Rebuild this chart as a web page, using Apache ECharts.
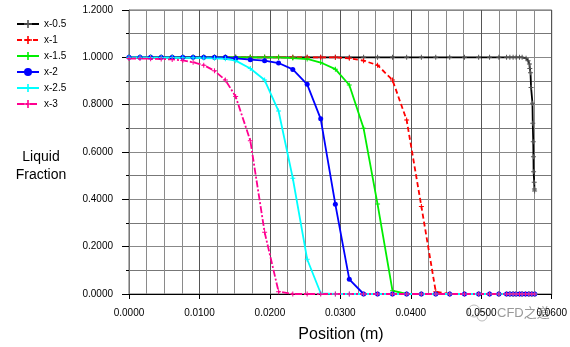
<!DOCTYPE html>
<html>
<head>
<meta charset="utf-8">
<script src="https://cdn.jsdelivr.net/npm/echarts@6/dist/echarts.min.js"></script>
<style>
html,body{margin:0;padding:0;background:#fff;}
#chart{width:570px;height:347px;}
</style>
</head>
<body>
<div id="chart"></div>
<script>
// Shared mesh positions (m)
const xMesh = [0.0000,0.00156,0.00307,0.00457,0.00613,0.00764,0.00910,0.01061,0.01213,0.01368,
  0.01514,0.01722,0.01925,0.02123,0.02325,0.02529,0.02721,0.02929,0.03127,0.03330,
  0.03528,0.03740,0.03941,0.04150,0.04354,0.04552,0.04762,0.04963,0.05118,0.05250,
  0.05359,0.05406,0.05452,0.05495,0.05543,0.05580,0.05628,0.05675,0.05717,0.05759];

// x-0.5 has its own points
const x05X = [0.0000,0.00156,0.00307,0.00457,0.00613,0.00764,0.00910,0.01061,0.01213,0.01368,
  0.01514,0.01722,0.01925,0.02123,0.02325,0.02529,0.02721,0.02929,0.03127,0.03330,
  0.03528,0.03740,0.03941,0.04150,0.04354,0.04552,0.04762,0.04963,0.05118,0.05250,
  0.05359,0.05406,0.05452,0.05495,0.05543,0.05580,
  0.05636,0.05665,0.05684,0.05689,0.05699,0.05707,0.05727,0.05731,0.05738,0.05741,0.05743,0.05752,0.05755,0.05757];
const x05Y = [1,1,1,1,1,1,1,1,1,1, 1,1,1,1,1,1,1,1,1,1, 1,1,1,1,1,1,1,1,1,1, 1,1,1,1,1,1,
  0.996,0.986,0.972,0.953,0.935,0.873,0.806,0.721,0.643,0.580,0.517,0.472,0.444,0.435];

const x1Y = [1,1,1,1,1,1,1,1,1,1, 1,1,1,1,1,1,1,1,
  0.996,0.986,0.967,0.904,0.735,0.370,0.010,
  0,0,0,0,0,0,0,0,0,0,0,0,0,0,0];
const x15Y = [1,1,1,1,1,1,1,1,1,1, 1,1,1,1,
  0.997,0.993,0.978,0.950,0.883,0.700,0.380,0.014,
  0,0,0,0,0,0,0,0,0,0,0,0,0,0,0,0,0,0];
const x2Y = [1,1,1,1,1,1,1,1,1,1,
  0.996,0.990,0.986,0.976,0.949,0.886,0.740,0.379,0.062,
  0,0,0,0,0,0,0,0,0,0,0,0,0,0,0,0,0,0,0,0,0,0];
const x25Y = [1,1,0.999,0.999,0.999,0.998,0.998,0.997,0.996,0.994,
  0.986,0.953,0.904,0.773,0.489,0.147,0.003,
  0,0,0,0,0,0,0,0,0,0,0,0,0,0,0,0,0,0,0,0,0,0,0];
const x3Y = [0.995,0.995,0.994,0.993,0.991,0.987,0.979,0.967,0.943,0.904,
  0.834,0.648,0.261,0.010,
  0,0,0,0,0,0,0,0,0,0,0,0,0,0,0,0,0,0,0,0,0,0,0,0,0,0];

const seriesNames = ['x-0.5','x-1','x-1.5','x-2','x-2.5','x-3'];
const xTickLabels = ['0.0000','0.0100','0.0200','0.0300','0.0400','0.0500','0.0600'];
const yTickLabels = ['0.0000','0.2000','0.4000','0.6000','0.8000','1.0000','1.2000'];

function pairs(xs, ys){ return ys.map((y,i)=>[xs[i], y]); }
const cross = 'path://M4,0H6V4H10V6H6V10H4V6H0V4H4Z';
const FONT = 'Liberation Sans, Arial, sans-serif';

function mk(name, xs, ys, color, opts){
  return Object.assign({
    name: name, type: 'line', data: pairs(xs, ys),
    symbol: cross, symbolSize: 5, showSymbol: true,
    itemStyle: {color: color},
    lineStyle: {color: color, width: 1.8, type: 'solid'},
    animation: false, emphasis: {disabled: true}
  }, opts || {});
}

const chart = echarts.init(document.getElementById('chart'), null, {renderer: 'canvas'});
chart.setOption({
  backgroundColor: '#fff',
  animation: false,
  textStyle: {fontFamily: FONT},
  grid: {left: 129, right: 17, top: 10, bottom: 53, show: true, borderColor: '#666', borderWidth: 1},
  legend: {
    orient: 'vertical', left: 11, top: 14, itemWidth: 22, itemHeight: 10, itemGap: 6,
    textStyle: {fontSize: 10, fontFamily: FONT, color: '#000'},
    data: seriesNames, selectedMode: false
  },
  xAxis: {
    type: 'value', min: 0, max: 0.06, interval: 0.01,
    axisLine: {show: true, lineStyle: {color: '#000', width: 1}},
    axisTick: {show: true, length: 5, lineStyle: {color: '#000'}},
    minorTick: {show: false, splitNumber: 4},
    minorSplitLine: {show: true, lineStyle: {color: '#8a8a8a', width: 1}},
    splitLine: {show: true, lineStyle: {color: '#555', width: 1}},
    axisLabel: {fontSize: 10, color: '#000', margin: 14, fontFamily: FONT,
      formatter: function(v){ const i = Math.round(v/0.01); return xTickLabels[i] !== undefined ? xTickLabels[i] : ''; }}
  },
  yAxis: {
    type: 'value', min: 0, max: 1.2, interval: 0.2,
    axisLine: {show: true, lineStyle: {color: '#777', width: 1}},
    axisTick: {show: true, length: 7, lineStyle: {color: '#000'}},
    minorTick: {show: true, splitNumber: 2, length: 3, lineStyle: {color: '#000'}},
    minorSplitLine: {show: true, lineStyle: {color: '#777', width: 1}},
    splitLine: {show: true, lineStyle: {color: '#888', width: 1}},
    axisLabel: {fontSize: 10, color: '#000', margin: 16, fontFamily: FONT,
      formatter: function(v){ const i = Math.round(v/0.2); return yTickLabels[i] !== undefined ? yTickLabels[i] : ''; }}
  },
  graphic: [
    {type: 'text', style: {text: 'Liquid', x: 41, y: 157, fontSize: 14, fontFamily: FONT, fill: '#000', align: 'center', verticalAlign: 'middle'}},
    {type: 'text', style: {text: 'Fraction', x: 41, y: 175, fontSize: 14, fontFamily: FONT, fill: '#000', align: 'center', verticalAlign: 'middle'}},
    {type: 'text', style: {text: 'Position (m)', x: 341, y: 335, fontSize: 16, fontFamily: FONT, fill: '#000', align: 'center', verticalAlign: 'middle'}},
    {type: 'circle', shape: {cx: 474, cy: 311, r: 6}, style: {fill: 'none', stroke: '#bbb', lineWidth: 1}},
    {type: 'circle', shape: {cx: 482, cy: 316, r: 5}, style: {fill: 'none', stroke: '#bbb', lineWidth: 1}},
    {type: 'text', style: {text: 'CFD之道', x: 497, y: 313, fontSize: 13, fontFamily: 'Liberation Sans, Noto Sans CJK SC, sans-serif', fill: '#999', align: 'left', verticalAlign: 'middle'}}
  ],
  series: [
    mk('x-0.5', x05X, x05Y, '#000000', {itemStyle: {color: '#555'}, lineStyle: {color: '#000', width: 1.8}}),
    mk('x-1', xMesh, x1Y, '#ff0000', {lineStyle: {color: '#ff0000', width: 1.8, type: [5, 3]}}),
    mk('x-1.5', xMesh, x15Y, '#00ee00'),
    mk('x-2', xMesh, x2Y, '#0000ff', {symbol: 'circle', symbolSize: 5}),
    mk('x-2.5', xMesh, x25Y, '#00ffff'),
    mk('x-3', xMesh, x3Y, '#ff0090', {lineStyle: {color: '#ff0090', width: 1.8, type: [7, 2, 2, 2]}})
  ]
});
</script>
</body>
</html>
